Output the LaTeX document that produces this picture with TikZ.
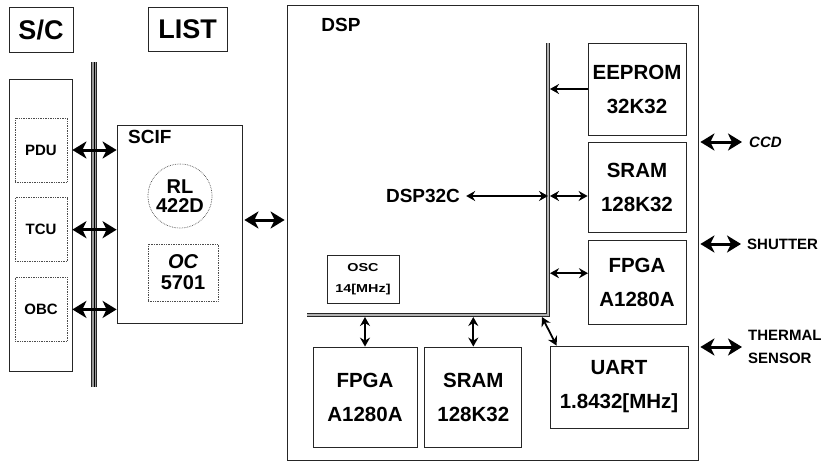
\documentclass[tikz,border=0pt]{standalone}
\usepackage{fontspec}
\setmainfont{Liberation Sans}
\newfontfamily\oscfont[FakeStretch=1.25]{Liberation Sans}
\usetikzlibrary{
	arrows.meta,
	positioning,
	calc
}

\begin{document}
\begin{tikzpicture}[
		x=1pt, y=-1pt,
		box/.style={draw=black!85, line width=0.8pt, align=center, inner sep=0pt, font=\fontsize{20.5}{34}\selectfont\bfseries},
		dotbox/.style={draw=black!70, densely dotted, line width=0.7pt, align=center, inner sep=0pt},
		titlebox/.style={draw=black!85, line width=0.9pt, inner sep=0pt, font=\fontsize{27}{30}\selectfont\bfseries},
		caption/.style={inner sep=1pt, font=\fontsize{19}{22}\selectfont\bfseries},
		extlabel/.style={inner sep=1pt, align=left, font=\fontsize{15}{23}\selectfont\bfseries},
		bigarrow/.style={{Stealth[length=14pt,width=17pt,inset=4pt]}-{Stealth[length=14pt,width=17pt,inset=4pt]}, line width=3pt},
		arrow/.style={{Stealth[length=9pt,width=10pt,inset=3pt]}-{Stealth[length=9pt,width=10pt,inset=3pt]}, line width=1.8pt},
		bus/.style={line width=0.8pt, draw=black!85, double=black!30, double distance=1.8pt},
		node distance=7pt
		]
		
		\useasboundingbox (0,0) rectangle (825,463);
		
		% =========================
		% Titles
		% =========================
		\node[titlebox, minimum width=64pt, minimum height=45pt] (sc) at (41,29.5) {S/C};
		\node[titlebox, minimum width=79pt, minimum height=44pt] (list) at (187.5,29) {LIST};
		
		% =========================
		% Spacecraft side
		% =========================
		\node[draw=black!85, line width=0.8pt, minimum width=63pt, minimum height=292pt] (scpanel) at (40.5,225) {};
		\node[dotbox, minimum width=52pt, minimum height=64pt, font=\fontsize{15}{18}\selectfont\bfseries] (pdu) at (41,150) {PDU};
		\node[dotbox, minimum width=52pt, minimum height=64pt, font=\fontsize{15}{18}\selectfont\bfseries, below=15pt of pdu] (tcu) {TCU};
		\node[dotbox, minimum width=52pt, minimum height=64pt, font=\fontsize{15}{18}\selectfont\bfseries, below=15pt of tcu] (obc) {OBC};
		
		% bus
		\coordinate (bustop) at (94,62);
		\coordinate (busbot) at (94,387);
		\draw[line width=1pt, draw=black!85, double=black!40, double distance=4.5pt] (bustop) -- (busbot);
		\draw[line width=0.6pt] (bustop) -- (busbot);
		
		% =========================
		% SCIF
		% =========================
		\node[draw=black!85, line width=0.8pt, minimum width=125pt, minimum height=198pt] (scif) at (179.5,224) {};
		\node[caption, anchor=west] (sciflabel) at (127,137) {SCIF};
		\node[dotbox, circle, minimum size=64pt, font=\fontsize{20}{19}\selectfont\bfseries] (rl) at (180,196) {RL\\422D};
		\node[dotbox, minimum width=70pt, minimum height=57pt, font=\fontsize{20}{21}\selectfont\bfseries] (oc) at (183,272.5) {\itshape OC\\5701};
		
		% =========================
		% DSP board
		% =========================
		\node[draw=black!85, line width=0.8pt, minimum width=411pt, minimum height=455pt] (dsp) at (492.5,232.5) {};
		\node[caption] (dsplabel) at (341,25) {DSP};
		\node[caption] (dspc) at (423,196) {DSP32C};
		\node[draw=black!85, line width=0.8pt, minimum width=72pt, minimum height=48pt, align=center, inner sep=0pt,
			font=\oscfont\fontsize{11.5}{21}\selectfont\bfseries] (osc) at (363,279) {OSC\\14[MHz]};
		
		\node[box, minimum width=98pt, minimum height=92pt] (eeprom) at (637,89) {EEPROM\\32K32};
		\node[box, minimum width=98pt, minimum height=90pt, below=of eeprom] (sramr) {SRAM\\128K32};
		\node[box, minimum width=98pt, minimum height=84pt, below=of sramr] (fpgar) {FPGA\\A1280A};
		\node[box, minimum width=138pt, minimum height=82pt] (uart) at (619,387) {UART\\1.8432[MHz]};
		\node[box, minimum width=104pt, minimum height=100pt] (fpgab) at (365,397) {FPGA\\A1280A};
		\node[box, minimum width=97pt, minimum height=100pt, right=of fpgab] (sramb) {SRAM\\128K32};
		
		% DSP bus
		\coordinate (vtop) at (548,43);
		\coordinate (corner) at (548,315);
		\coordinate (hleft) at (307,315);
		\draw[bus] (hleft) -- (corner) -- (vtop);
		
		% =========================
		% External labels
		% =========================
		\node[extlabel, anchor=west] (ccd) at (748,142) {\itshape CCD};
		\node[extlabel, anchor=west] (shutter) at (746,244) {SHUTTER};
		\node[extlabel, anchor=west] (thermal) at (747,347) {THERMAL\\SENSOR};
		
		% =========================
		% Arrows
		% =========================
		\draw[bigarrow] (scpanel.east |- pdu) -- (scif.west |- pdu);
		\draw[bigarrow] (scpanel.east |- tcu) -- (scif.west |- tcu);
		\draw[bigarrow] (scpanel.east |- obc) -- (scif.west |- obc);
		\draw[bigarrow] ([xshift=2pt]scif.east |- 0,220) -- ([xshift=-2pt]dsp.west |- 0,220);
		
		\draw[arrow] ([xshift=5pt]dspc.east) -- (corner |- dspc);
		\draw[-{Stealth[length=9pt,width=10pt,inset=3pt]}, line width=1.8pt] (eeprom.west) -- ([xshift=2pt]corner |- eeprom.west);
		\draw[arrow] ([xshift=2pt]corner |- dspc) -- (sramr.west |- dspc);
		\draw[arrow] ([xshift=2pt]corner |- fpgar.north west) ++(0,33) -- ++(38,0);
		\draw[arrow] ([yshift=-2pt]fpgab.north |- corner) -- (fpgab.north);
		\draw[arrow] ([yshift=-2pt]sramb.north |- corner) -- (sramb.north);
		\draw[arrow] ([shift={(-6pt,-2pt)}]corner) -- ([xshift=7pt]uart.north west);
		
		\draw[bigarrow] ([xshift=2pt]dsp.east |- ccd) -- ([xshift=-6pt]ccd.west);
		\draw[bigarrow] ([xshift=2pt]dsp.east |- shutter) -- ([xshift=-5pt]shutter.west);
		\draw[bigarrow] ([xshift=2pt]dsp.east |- thermal) -- ([xshift=-5pt]thermal.west);
		
	\end{tikzpicture}
\end{document}
